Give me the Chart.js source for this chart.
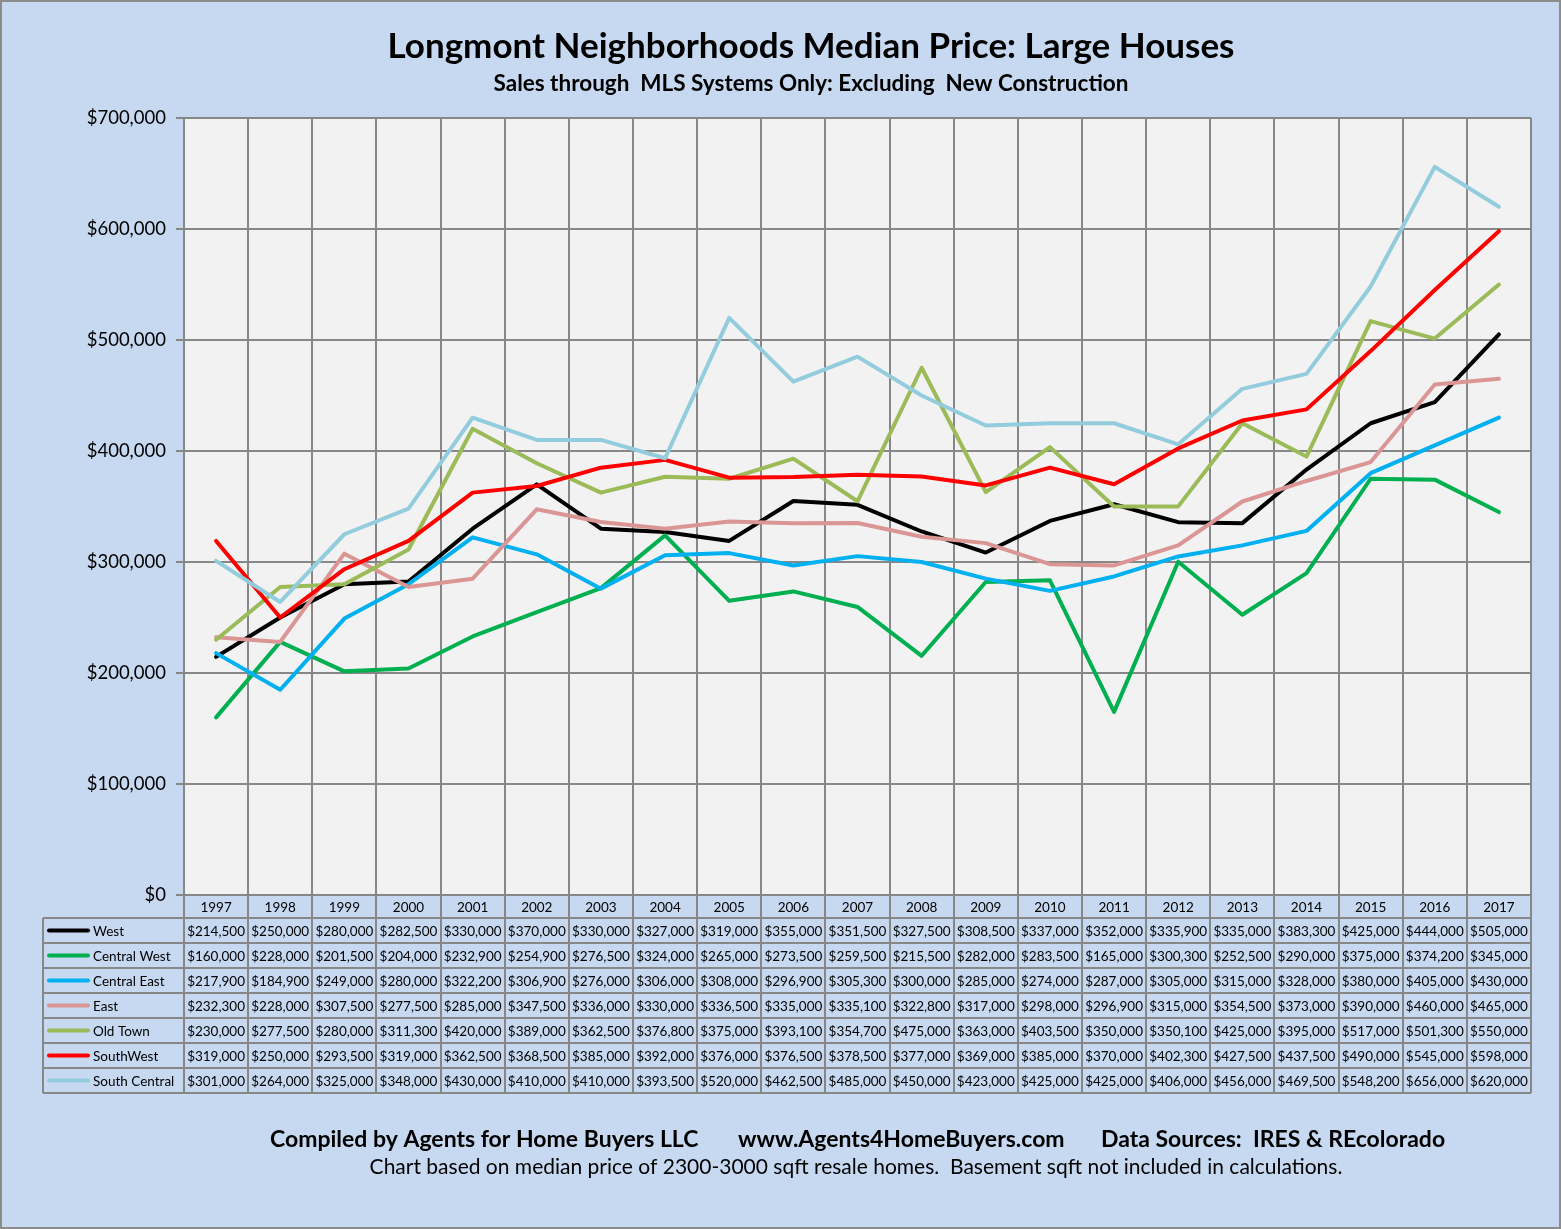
<!DOCTYPE html>
<html>
<head>
<meta charset="utf-8">
<script src="https://cdn.jsdelivr.net/npm/chart.js@4.4.1/dist/chart.umd.min.js"></script>
<style>
  body { margin: 0; background: #C6D9F0; }
  #wrap { width: 1561px; height: 1229px; position: relative; }
</style>
</head>
<body>
<div id="wrap"><canvas id="priceChart"></canvas></div>
<script>
const years = ["1997","1998","1999","2000","2001","2002","2003","2004","2005","2006","2007","2008","2009","2010","2011","2012","2013","2014","2015","2016","2017"];
const west = [214500,250000,280000,282500,330000,370000,330000,327000,319000,355000,351500,327500,308500,337000,352000,335900,335000,383300,425000,444000,505000];
const centralWest = [160000,228000,201500,204000,232900,254900,276500,324000,265000,273500,259500,215500,282000,283500,165000,300300,252500,290000,375000,374200,345000];
const centralEast = [217900,184900,249000,280000,322200,306900,276000,306000,308000,296900,305300,300000,285000,274000,287000,305000,315000,328000,380000,405000,430000];
const east = [232300,228000,307500,277500,285000,347500,336000,330000,336500,335000,335100,322800,317000,298000,296900,315000,354500,373000,390000,460000,465000];
const oldTown = [230000,277500,280000,311300,420000,389000,362500,376800,375000,393100,354700,475000,363000,403500,350000,350100,425000,395000,517000,501300,550000];
const southWest = [319000,250000,293500,319000,362500,368500,385000,392000,376000,376500,378500,377000,369000,385000,370000,402300,427500,437500,490000,545000,598000];
const southCentral = [301000,264000,325000,348000,430000,410000,410000,393500,520000,462500,485000,450000,423000,425000,425000,406000,456000,469500,548200,656000,620000];

const seriesNames = ["West","Central West","Central East","East","Old Town","SouthWest","South Central"];
const seriesData = [west, centralWest, centralEast, east, oldTown, southWest, southCentral];
const seriesColors = ["#000000","#00B050","#00B0F0","#DA9694","#9BBB59","#FF0000","#93CDDD"];

const FONT = "Lato, 'Open Sans', sans-serif";
const GRID = "#878787";
const YEAR_ROW = 23;
const ROW_H = 25;
const TABLE_LEFT = 43;

function money(v) {
  return "$" + v.toLocaleString("en-US");
}

const backdrop = {
  id: "backdrop",
  beforeDraw(chart) {
    const { ctx, chartArea: a } = chart;
    ctx.save();
    ctx.fillStyle = "#C6D9F0";
    ctx.fillRect(0, 0, chart.width, chart.height);
    ctx.fillStyle = "#F2F2F2";
    ctx.fillRect(a.left, a.top, a.right - a.left, a.bottom - a.top);
    ctx.restore();
  },
  afterDraw(chart) {
    const { ctx, chartArea: a } = chart;
    const xs = chart.scales.x;
    const n = years.length;
    const w = (xs.right - xs.left) / n;
    const top = a.bottom;
    const rowsTop = top + YEAR_ROW;
    const bottom = rowsTop + ROW_H * seriesNames.length;

    ctx.save();
    ctx.strokeStyle = GRID;
    ctx.lineWidth = 2;
    ctx.beginPath();
    for (let k = 0; k <= n; k++) {
      const bx = Math.round(xs.left + k * w);
      ctx.moveTo(bx, top);
      ctx.lineTo(bx, bottom);
    }
    for (let r = 0; r <= seriesNames.length; r++) {
      const y = rowsTop + r * ROW_H;
      ctx.moveTo(TABLE_LEFT, y);
      ctx.lineTo(xs.right, y);
    }
    ctx.moveTo(TABLE_LEFT, rowsTop);
    ctx.lineTo(TABLE_LEFT, bottom);
    ctx.stroke();

    ctx.fillStyle = "#000";
    ctx.textAlign = "center";
    ctx.textBaseline = "middle";
    ctx.font = "13.5px " + FONT;
    years.forEach((yr, i) => {
      ctx.fillText(yr, xs.getPixelForTick(i), top + YEAR_ROW / 2 + 1);
    });
    seriesData.forEach((vals, r) => {
      const cy = rowsTop + r * ROW_H + ROW_H / 2 + 1;
      vals.forEach((v, i) => {
        ctx.fillText(money(v), xs.getPixelForTick(i), cy);
      });
    });

    // legend keys
    ctx.textAlign = "left";
    seriesNames.forEach((name, r) => {
      const cy = rowsTop + r * ROW_H + ROW_H / 2;
      ctx.strokeStyle = seriesColors[r];
      ctx.lineWidth = 4;
      ctx.lineCap = "round";
      ctx.beginPath();
      ctx.moveTo(49, cy);
      ctx.lineTo(88, cy);
      ctx.stroke();
      ctx.fillStyle = "#000";
      ctx.fillText(name, 93, cy + 1);
    });

    // titles and footer
    ctx.textAlign = "center";
    ctx.textBaseline = "alphabetic";
    ctx.font = "bold 35px " + FONT;
    ctx.fillText("Longmont Neighborhoods Median Price: Large Houses", 811, 58);
    ctx.font = "bold 22.5px " + FONT;
    ctx.fillText("Sales through  MLS Systems Only: Excluding  New Construction", 811, 91);
    ctx.textAlign = "left";
    ctx.font = "bold 23px " + FONT;
    ctx.fillText("Compiled by Agents for Home Buyers LLC", 270, 1147);
    ctx.fillText("www.Agents4HomeBuyers.com", 738, 1147);
    ctx.fillText("Data Sources:  IRES & REcolorado", 1101, 1147);
    ctx.textAlign = "center";
    ctx.font = "21px " + FONT;
    ctx.fillText("Chart based on median price of 2300-3000 sqft resale homes.  Basement sqft not included in calculations.", 856, 1174);

    ctx.strokeStyle = "#8c8c8c";
    ctx.lineWidth = 2;
    ctx.strokeRect(1, 1, chart.width - 2, chart.height - 2);
    ctx.restore();
  }
};

new Chart(document.getElementById("priceChart"), {
  type: "line",
  data: {
    labels: years,
    datasets: seriesNames.map((name, i) => ({
      label: name,
      data: seriesData[i],
      borderColor: seriesColors[i],
      backgroundColor: seriesColors[i],
      borderWidth: 4,
      pointRadius: 0,
      tension: 0,
      borderCapStyle: "round",
      borderJoinStyle: "round",
      order: seriesNames.length - i,
    })),
  },
  options: {
    responsive: true,
    maintainAspectRatio: false,
    devicePixelRatio: 1,
    animation: false,
    layout: { padding: { top: 118, right: 30, bottom: 334, left: 0 } },
    plugins: {
      legend: { display: false },
      tooltip: { enabled: false },
      title: { display: false },
    },
    scales: {
      x: {
        offset: true,
        grid: { offset: true, color: GRID, lineWidth: 2, drawTicks: false },
        border: { display: false },
        ticks: { display: false },
      },
      y: {
        min: 0,
        max: 700000,
        afterFit(scale) { scale.width = 184; },
        grid: { color: GRID, lineWidth: 2, tickLength: 8 },
        border: { display: true, color: GRID, width: 2 },
        ticks: {
          stepSize: 100000,
          color: "#000",
          padding: 10,
          font: { family: FONT, size: 18.5 },
          callback: (v) => money(v),
        },
      },
    },
  },
  plugins: [backdrop],
});
</script>
</body>
</html>
